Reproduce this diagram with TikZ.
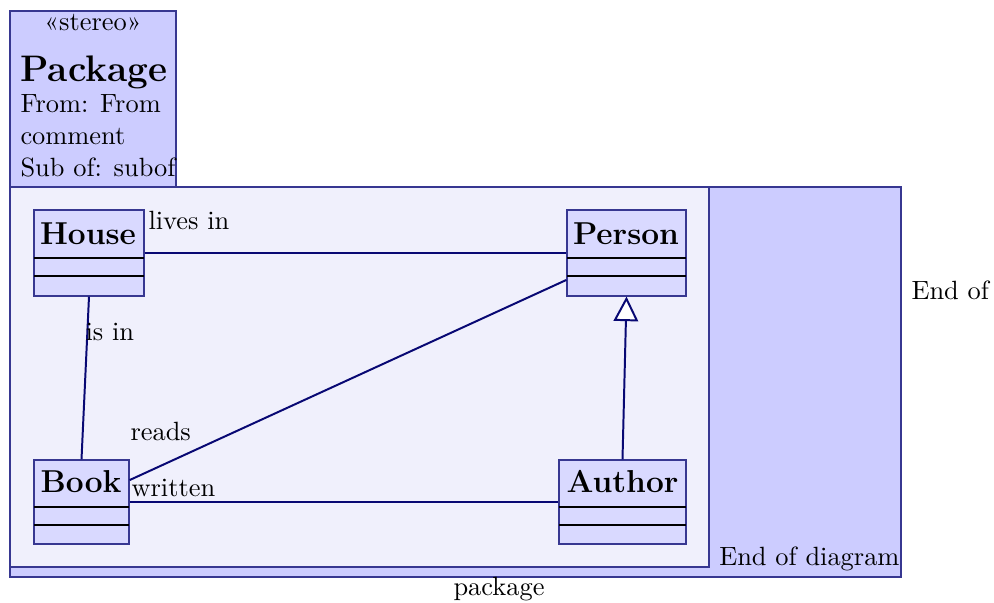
\documentclass[tikz,border=0pt]{standalone}
\usetikzlibrary{arrows.meta,fit}
\definecolor{navyline}{RGB}{8,8,115}
\definecolor{boxborder}{RGB}{55,55,145}
\definecolor{pkgfill}{RGB}{204,204,255}
\definecolor{innerfill}{RGB}{240,240,252}
\definecolor{classfill}{RGB}{217,217,255}
\begin{document}
\begin{tikzpicture}[x=0.3788pt,y=-0.3788pt,
  pkgbox/.style={draw=boxborder, fill=pkgfill, line width=0.45pt, inner sep=0pt},
  innerbox/.style={draw=boxborder, fill=innerfill, line width=0.45pt, inner sep=0pt},
  classbox/.style={draw=boxborder, fill=classfill, line width=0.45pt, inner sep=0pt},
  sepline/.style={black, line width=0.75pt},
  classname/.style={anchor=base, inner sep=0pt, font=\large\bfseries},
  txt/.style={inner sep=0pt},
  assoc/.style={navyline, line width=0.75pt},
  inherit/.style={navyline, line width=0.75pt, -{Triangle[open, length=9.3pt, width=9.3pt, fill=white]}}
]
\useasboundingbox (0,0) rectangle (994,603);
% package
\node[pkgbox, fit={(10,187)(901,577)}] (pkg) {};
\node[pkgbox, fit={(10,11)(176,187)}] (tab) {};
\node[innerbox, fit={(10,187)(709,567)}] (inner) {};
% tab texts
\node[txt, anchor=base] (stereo) at (93,31) {«stereo»};
\node[txt, anchor=base west, font=\fontsize{14}{17}\selectfont\bfseries] (pname) at (20,82) {Package};
\node[txt, anchor=base west] (from) at (20,113) {From: From};
\node[txt, anchor=base west] (comm) at (20,145) {comment};
\node[txt, anchor=base west] (subof) at (20,177) {Sub of: subof};
% classes
\node[classbox, fit={(34,210)(144,296)}] (house) {};
\node[classbox, fit={(567,210)(686,296)}] (person) {};
\node[classbox, fit={(34,460)(129,544)}] (book) {};
\node[classbox, fit={(559,460)(686,544)}] (author) {};
\node[classname] (houset) at (88,245) {House};
\node[classname] (persont) at (626,245) {Person};
\node[classname] (bookt) at (81,493) {Book};
\node[classname] (authort) at (622.5,493) {Author};
\draw[sepline] (34,258) -- (144,258) (34,276) -- (144,276);
\draw[sepline] (567,258) -- (686,258) (567,276) -- (686,276);
\draw[sepline] (34,507) -- (129,507) (34,525) -- (129,525);
\draw[sepline] (559,507) -- (686,507) (559,525) -- (686,525);
% connectors
\draw[assoc] (house.east) -- (person.west);
\draw[assoc] (house.south) -- (book.north);
\draw[assoc] ([yshift=8.3pt]book.east) -- ([yshift=-10.2pt]person.west);
\draw[assoc] (book.east) -- (author.west);
\draw[inherit] (author.north) -- (person.south);
% labels
\node[txt, anchor=base west] (l1) at (148,230) {lives in};
\node[txt, anchor=base west] (l2) at (85,341) {is in};
\node[txt, anchor=base west] (l3) at (130,441) {reads};
\node[txt, anchor=base west] (l4) at (131,497) {written};
\node[txt, anchor=base east] (end1) at (900,566) {End of diagram};
\node[txt, anchor=base west] (end2) at (911,300) {End of};
\node[txt, anchor=base] (pkgl) at (499,596) {package};
\end{tikzpicture}
\end{document}
